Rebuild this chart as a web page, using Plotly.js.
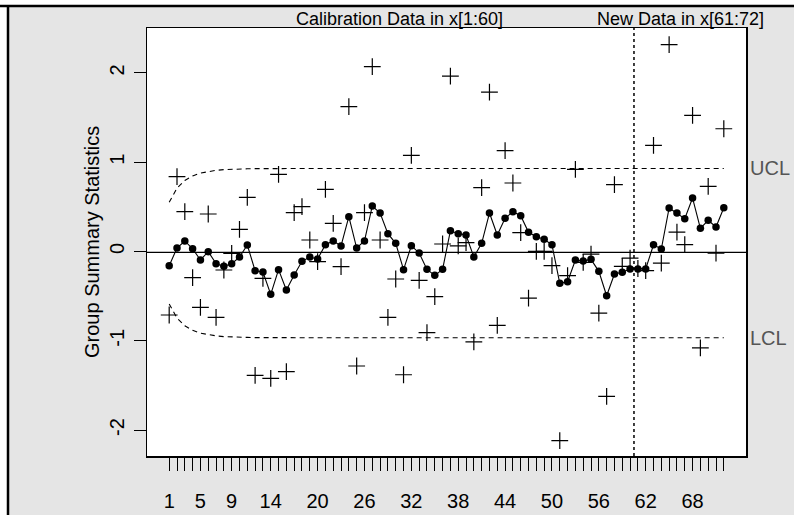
<!DOCTYPE html>
<html>
<head>
<meta charset="utf-8">
<script src="https://cdn.plot.ly/plotly-3.0.1.min.js"></script>
<style>
  html, body { margin: 0; padding: 0; background: #ffffff; }
  #chart { width: 794px; height: 515px; }
</style>
</head>
<body>
<div id="chart"></div>
<script>
// Group summary statistics (one value per group, calibration 1-60, new data 61-72)
const groupStats = [
  -0.711, 0.838, 0.446, -0.293, -0.625, 0.420, -0.737, -0.207, -0.020, 0.249,
  0.607, -1.387, -0.300, -1.420, 0.864, -1.346, 0.435, 0.502, 0.129, -0.114,
  0.696, 0.316, -0.170, 1.622, -1.282, 0.435, 2.070, 0.129, -0.737, -0.308,
  -1.380, 1.077, -0.323, -0.909, -0.506, 0.084, 1.965, 0.062, 0.099, -1.013,
  0.715, 1.786, -0.827, 1.129, 0.767, 0.211, -0.521, 0.002, 0.002, -0.159,
  -2.118, -0.271, 0.920, -0.121, -0.030, -0.689, -1.622, 0.748, -0.166, -0.073,
  -0.190, -0.215, 1.189, -0.129, 2.316, 0.218, 0.076, 1.525, -1.080, 0.730,
  -0.017, 1.375
];

// EWMA smoothed statistic for each group
const ewmaValues = [
  -0.159, 0.039, 0.118, 0.031, -0.095, -0.002, -0.136, -0.166, -0.136, -0.062,
  0.073, -0.215, -0.229, -0.480, -0.203, -0.431, -0.263, -0.110, -0.062, -0.084,
  0.076, 0.118, 0.062, 0.390, 0.039, 0.118, 0.510, 0.431, 0.200, 0.092,
  -0.203, 0.065, -0.017, -0.200, -0.267, -0.200, 0.233, 0.200, 0.185, -0.062,
  0.092, 0.431, 0.185, 0.372, 0.446, 0.401, 0.215, 0.166, 0.137, 0.076,
  -0.356, -0.338, -0.095, -0.106, -0.088, -0.222, -0.495, -0.252, -0.233, -0.196,
  -0.196, -0.196, 0.076, 0.028, 0.487, 0.431, 0.368, 0.599, 0.260, 0.349,
  0.274, 0.490
];

// Upper and lower control limits per group
const upperLimit = [
  0.551, 0.710, 0.796, 0.847, 0.878, 0.897, 0.909, 0.917, 0.922, 0.925,
  0.926, 0.928, 0.929, 0.929, 0.930, 0.930, 0.930, 0.930, 0.930, 0.930,
  0.930, 0.930, 0.930, 0.930, 0.930, 0.930, 0.930, 0.930, 0.930, 0.930,
  0.930, 0.930, 0.930, 0.930, 0.930, 0.930, 0.930, 0.930, 0.930, 0.930,
  0.930, 0.930, 0.930, 0.930, 0.930, 0.930, 0.930, 0.930, 0.930, 0.930,
  0.930, 0.930, 0.930, 0.930, 0.930, 0.930, 0.930, 0.930, 0.930, 0.930,
  0.930, 0.930, 0.930, 0.930, 0.930, 0.930, 0.930, 0.930, 0.930, 0.930,
  0.930, 0.930
];
const lowerLimit = [
  -0.587, -0.746, -0.832, -0.883, -0.914, -0.933, -0.945, -0.953, -0.958, -0.961,
  -0.962, -0.964, -0.965, -0.965, -0.966, -0.966, -0.966, -0.966, -0.966, -0.966,
  -0.966, -0.966, -0.966, -0.966, -0.966, -0.966, -0.966, -0.966, -0.966, -0.966,
  -0.966, -0.966, -0.966, -0.966, -0.966, -0.966, -0.966, -0.966, -0.966, -0.966,
  -0.966, -0.966, -0.966, -0.966, -0.966, -0.966, -0.966, -0.966, -0.966, -0.966,
  -0.966, -0.966, -0.966, -0.966, -0.966, -0.966, -0.966, -0.966, -0.966, -0.966,
  -0.966, -0.966, -0.966, -0.966, -0.966, -0.966, -0.966, -0.966, -0.966, -0.966,
  -0.966, -0.966
];

const centerValue = -0.010;
const calibrationEnd = 60;

// Group labels shown under the axis
const xTickLabels = [1, 5, 9, 14, 20, 26, 32, 38, 44, 50, 56, 62, 68];
const yTickValues = [-2, -1, 0, 1, 2];
const yTickLabels = ['-2', '-1', '0', '1', '2'];

const groups = groupStats.map((_, i) => i + 1);
const tickText = groups.map(g => (xTickLabels.includes(g) ? String(g) : ''));

const FONT = 'Liberation Sans, Arial, Helvetica, sans-serif';
const TXT = 20;

// Figure geometry in pixels
const W = 794, H = 515;
const M = { l: 147, r: 48, t: 28, b: 59 };
const pw = W - M.l - M.r, ph = H - M.t - M.b;
const px = x => (x - M.l) / pw;          // pixel -> paper x
const py = y => (H - M.b - y) / ph;      // pixel -> paper y

const traces = [
  {
    x: groups, y: upperLimit, type: 'scatter', mode: 'lines',
    line: { color: '#000', width: 1.1, dash: '5px,4px' },
    hoverinfo: 'skip', showlegend: false
  },
  {
    x: groups, y: lowerLimit, type: 'scatter', mode: 'lines',
    line: { color: '#000', width: 1.1, dash: '5px,4px' },
    hoverinfo: 'skip', showlegend: false
  },
  {
    x: groups, y: groupStats, type: 'scatter', mode: 'markers',
    marker: { symbol: 'cross-thin', size: 12, line: { color: '#000', width: 1.2 } },
    showlegend: false
  },
  {
    x: groups, y: ewmaValues, type: 'scatter', mode: 'lines+markers',
    line: { color: '#000', width: 1.1 },
    marker: { symbol: 'circle', size: 7.5, color: '#000' },
    showlegend: false
  }
];

const layout = {
  width: W, height: H,
  margin: M,
  paper_bgcolor: '#e5e5e5',
  plot_bgcolor: '#ffffff',
  font: { family: FONT, color: '#000', size: TXT },
  showlegend: false,
  xaxis: {
    range: [-1.84, 74.84],
    tickmode: 'array', tickvals: groups, ticktext: tickText,
    ticks: 'outside', ticklen: 13, tickwidth: 1, tickcolor: '#000',
    ticklabelstandoff: 13,
    showgrid: false, zeroline: false,
    showline: true, mirror: true, linecolor: '#000', linewidth: 1.5,
    tickfont: { family: FONT, size: TXT, color: '#000' }
  },
  yaxis: {
    range: [-2.29, 2.503],
    tickmode: 'array', tickvals: yTickValues, ticktext: yTickLabels,
    tickangle: -90,
    ticks: 'outside', ticklen: 12, tickwidth: 1, tickcolor: '#000',
    ticklabelstandoff: 2,
    showgrid: false, zeroline: false,
    showline: true, mirror: true, linecolor: '#000', linewidth: 1.5,
    tickfont: { family: FONT, size: TXT, color: '#000' }
  },
  shapes: [
    // centre line across the whole plotting region
    { type: 'line', xref: 'paper', x0: 0, x1: 1, yref: 'y', y0: centerValue, y1: centerValue,
      line: { color: '#000', width: 1.2 } },
    // boundary between calibration and new data
    { type: 'line', xref: 'x', x0: calibrationEnd + 0.5, x1: calibrationEnd + 0.5, yref: 'paper', y0: 0, y1: 1,
      line: { color: '#000', width: 1.5, dash: 'dot' } },
    // white strips outside the grey panel, with its dark frame
    { type: 'rect', xref: 'paper', yref: 'paper', x0: px(0), x1: px(W), y0: py(6), y1: py(0),
      fillcolor: '#ffffff', line: { width: 0 }, layer: 'above' },
    { type: 'rect', xref: 'paper', yref: 'paper', x0: px(0), x1: px(7), y0: py(H), y1: py(0),
      fillcolor: '#ffffff', line: { width: 0 }, layer: 'above' },
    { type: 'line', xref: 'paper', yref: 'paper', x0: px(0), x1: px(W), y0: py(6), y1: py(6),
      line: { color: '#000', width: 2.5 }, layer: 'above' },
    { type: 'line', xref: 'paper', yref: 'paper', x0: px(8), x1: px(8), y0: py(6), y1: py(H),
      line: { color: '#000', width: 2.5 }, layer: 'above' }
  ],
  annotations: [
    { text: 'Group Summary Statistics', xref: 'paper', x: px(92), yref: 'paper', y: 0.5,
      xanchor: 'center', yanchor: 'middle', textangle: -90, showarrow: false,
      font: { family: FONT, size: TXT, color: '#000' } },
    { text: 'Calibration Data in x[1:60]', xref: 'x', x: 30.5, yref: 'paper', y: 1,
      xanchor: 'center', yanchor: 'bottom', showarrow: false, yshift: -3,
      font: { family: FONT, size: 18, color: '#000' } },
    { text: 'New Data in x[61:72]', xref: 'x', x: 66.5, yref: 'paper', y: 1,
      xanchor: 'center', yanchor: 'bottom', showarrow: false, yshift: -3,
      font: { family: FONT, size: 18, color: '#000' } },
    { text: 'UCL', xref: 'paper', x: 1, yref: 'y', y: upperLimit[upperLimit.length - 1],
      xanchor: 'left', yanchor: 'middle', showarrow: false, xshift: 2,
      font: { family: FONT, size: TXT, color: '#555555' } },
    { text: 'LCL', xref: 'paper', x: 1, yref: 'y', y: lowerLimit[lowerLimit.length - 1],
      xanchor: 'left', yanchor: 'middle', showarrow: false, xshift: 2,
      font: { family: FONT, size: TXT, color: '#555555' } }
  ]
};

Plotly.newPlot('chart', traces, layout, { staticPlot: true, displayModeBar: false });
</script>
</body>
</html>
